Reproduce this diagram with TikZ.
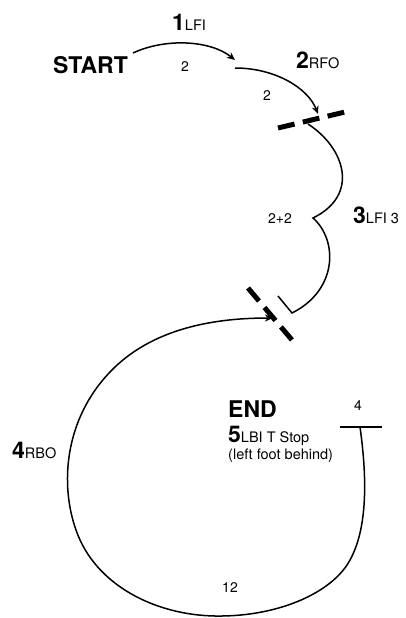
\documentclass[tikz,border=0pt]{standalone}
\usepackage{fontspec}
\setmainfont{TeX Gyre Heros}
\usetikzlibrary{arrows.meta}
\newcommand\stepfont{\bfseries\fontsize{23}{23}\selectfont}
\newcommand\subfont{\mdseries\fontsize{14.5}{14.5}\selectfont}
\tikzset{
  lbl/.style={inner sep=0pt, anchor=base west},
  count/.style={inner sep=0pt, font=\fontsize{14}{14}\selectfont},
  trace/.style={line width=1.5pt},
  arrowed/.style={-{Stealth[length=8pt,width=7pt,inset=2.5pt]}},
  marker/.style={line width=5pt, dash pattern=on 17pt off 8.5pt},
}
\begin{document}
\begin{tikzpicture}[x=1pt,y=-1pt]
  \useasboundingbox (0,0) rectangle (405,618);

  % step labels
  \node[lbl] (start) at (53,74) {\stepfont START};
  \node[lbl] (s1) at (172,31) {\stepfont 1\subfont LFI};
  \node[lbl] (s2) at (296,69) {\stepfont 2\subfont RFO};
  \node[lbl] (s3) at (353,223) {\stepfont 3\subfont LFI 3};
  \node[lbl] (s4) at (12,458) {\stepfont 4\subfont RBO};
  \node[lbl] (fin) at (228,417) {\stepfont END};
  \node[lbl] (s5) at (228,442) {\stepfont 5\subfont LBI T Stop};
  \node[lbl] (note) at (228,459) {\subfont (left foot behind)};

  % counts
  \node[count] (c1) at (185,67) {2};
  \node[count] (c2) at (267,96) {2};
  \node[count] (c3) at (280,219) {2+2};
  \node[count] (c4) at (358,406) {4};
  \node[count] (c5) at (230,588) {12};

  % curve end points
  \coordinate (a1) at (133,53);
  \coordinate (b1) at (235,60);
  \coordinate (a2) at (235,68);
  \coordinate (b2) at (318,114);
  \coordinate (a3) at (308,124);
  \coordinate (cusp) at (313,218);
  \coordinate (hook) at (292,313);
  \coordinate (b3) at (278,296);
  \coordinate (stopL) at (340,427);
  \coordinate (stopR) at (382,427);
  \coordinate (stop) at (360,427);
  \coordinate (b4) at (273,318);
  \coordinate (m1a) at (278,128);
  \coordinate (m1b) at (345,112);
  \coordinate (m2a) at (248,288);
  \coordinate (m2b) at (292,340);

  % edges 1 and 2
  \draw[trace,arrowed] (a1) .. controls (165,38) and (210,40) .. (b1);
  \draw[trace,arrowed] (a2) .. controls (275,68) and (308,88) .. (b2);

  % edge 3 with its turn
  \draw[trace] (a3) .. controls (345,148) and (360,195) .. (cusp)
    .. controls (338,240) and (338,290) .. (hook) -- (b3);

  % edge 4, the big loop ending at the T stop
  \draw[trace] (stopL) -- (stopR);
  \draw[trace,arrowed] (stop) .. controls (366,470) and (370,530) .. (347,565)
    .. controls (327,595) and (275,617) .. (215,616)
    .. controls (155,615) and (95,585) .. (76,530)
    .. controls (60,485) and (64,420) .. (110,372)
    .. controls (150,330) and (210,318) .. (b4);

  % dashed edge change markers
  \draw[marker] (m1a) -- (m1b);
  \draw[marker] (m2a) -- (m2b);
\end{tikzpicture}
\end{document}
